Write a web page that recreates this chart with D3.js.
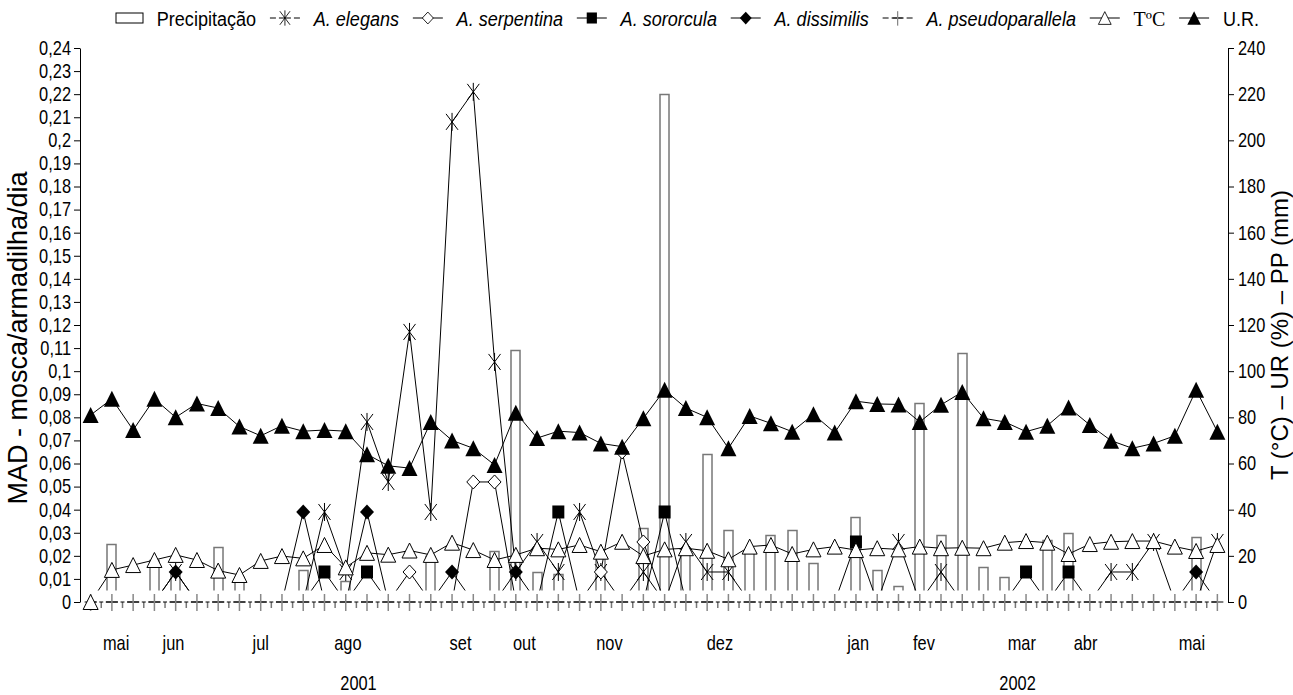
<!DOCTYPE html>
<html><head><meta charset="utf-8">
<script src="https://cdn.jsdelivr.net/npm/d3@7"></script>
<style>
html,body{margin:0;padding:0;background:#fff;}
text{font-family:"Liberation Sans",Arial,sans-serif;fill:#000;}
</style></head>
<body><svg id="c" width="1293" height="695"></svg>
<script>
// ---- data ----
const categories = d3.range(1, 55).map(String); // 54 weekly samples
const precipitacao = [0,25,0,18,13,0,24,11,0,0,14,0,9,0,0,0,20,0,0,22,109,13,12,0,19,0,32,220,22,64,31,22,29,31,17,0,37,14,7,86,29,108,15,11,0,27,30,0,0,0,0,0,28,0];
const elegans = [0,0,0,0,0.013,0,0,0,0,0,0,0.039,0.013,0.078,0.052,0.117,0.039,0.208,0.221,0.104,0.013,0.026,0.013,0.039,0.013,0,0.013,0,0.026,0.013,0.013,0,0,0,0,0,0,0,0.026,0,0.013,0,0,0,0,0,0,0,0.013,0.013,0.026,0,0,0.026];
const serpentina = [0,0,0,0,0,0,0,0,0,0,0,0,0,0,0,0.013,0,0,0.052,0.052,0,0,0,0,0.013,0.065,0.026,0,0,0,0,0,0,0,0,0,0,0,0,0,0,0,0,0,0,0,0,0,0,0,0,0,0,0];
const sororcula = [0,0,0,0,0,0,0,0,0,0,0,0.013,0,0.013,0,0,0,0,0,0,0,0,0.039,0,0,0,0,0.039,0,0,0,0,0,0,0,0,0.026,0,0,0,0,0,0,0,0.013,0,0.013,0,0,0,0,0,0,0];
const dissimilis = [0,0,0,0,0.013,0,0,0,0,0,0.039,0,0,0.039,0,0,0,0.013,0,0,0.013,0,0,0,0,0,0,0,0,0,0,0,0,0,0,0,0,0,0,0,0,0,0,0,0,0,0,0,0,0,0,0,0.013,0];
const pseudoparallela = new Array(54).fill(0);
const temperatura = [0,13.9,16,18.2,20.4,18.2,13.6,11.7,17.8,19.9,18.9,24.7,15,21.3,20.5,22.3,20.4,25.7,22.5,18.2,20.4,23.3,22.8,24.7,21.8,26.1,19.9,22.8,23.3,22.2,18.5,24,24.7,20.8,22.8,24,22.5,23.3,22.8,24,23.3,23.5,23.3,25.7,26.4,25.7,20.8,25.1,26.1,26.4,26.4,24,22.1,24.7];
const umidade = [81,88,74.5,88,80,86,84,76,72,76.4,74,74.5,74,64,59,58,78,70,66.6,59.4,82,71,74,73.4,68.7,67.3,79.6,91.9,84,80,66.6,80.6,77.4,73.8,81.3,73.4,87,85.8,85.6,78,85.4,91,79.6,78,73.8,76.4,84.3,76.7,69.9,66.6,68.7,72,91.9,73.8];
const leftTicks = d3.range(0, 25).map(d => d / 100);
const rightTicks = d3.range(0, 241, 20);
const monthLabels = ["mai","jun","jul","ago","set","out","nov","dez","jan","fev","mar","abr","mai"];
const monthPos = [1.2,3.9,8.0,12.1,17.4,20.4,24.4,29.6,36.1,39.2,43.8,46.8,51.8]; // in sample units
const yearLabels = ["2001","2002"];
const yearPos = [12.6,43.6];
const legendNames = ["Precipitação","A. elegans","A. serpentina","A. sororcula","A. dissimilis","A. pseudoparallela","TºC","U.R."];

// ---- layout ----
const svg = d3.select("#c");
const L = 80, R = 1228, T0 = 48, B0 = 602;
const NARROW = 0.82;
const x = d3.scaleBand().domain(categories).range([L, R]).paddingInner(0).paddingOuter(0);
const bw = x.bandwidth();
const cx = (i) => x(categories[i]) + bw / 2;
const xf = d3.scaleLinear().domain([0, categories.length - 1]).range([cx(0), cx(categories.length - 1)]);
const yL = d3.scaleLinear().domain([0, 0.24]).range([B0, T0]);
const yR = d3.scaleLinear().domain([0, 240]).range([B0, T0]);
const clipY = yL(0.005);

function narrow(sel, k) {
  const s = k || NARROW;
  sel.each(function () {
    const t = d3.select(this);
    const tx = +t.attr("x") || 0, ty = +t.attr("y") || 0;
    t.attr("x", 0).attr("y", 0).attr("transform", `translate(${tx},${ty}) scale(${s},1)`);
  });
}

svg.append("defs").append("clipPath").attr("id","clipA")
  .append("rect").attr("x", L).attr("y", 30).attr("width", R - L).attr("height", clipY - 30);

// axes
const fmt = d => d === 0 ? "0" : String(+d.toFixed(2)).replace(".", ",");
const gL = svg.append("g").attr("transform", `translate(${L},0)`)
  .call(d3.axisLeft(yL).tickValues(leftTicks).tickFormat(fmt).tickSize(6).tickSizeOuter(0).tickPadding(3));
const gR = svg.append("g").attr("transform", `translate(${R},0)`)
  .call(d3.axisRight(yR).tickValues(rightTicks).tickFormat(d3.format("d")).tickSize(6).tickSizeOuter(0).tickPadding(4));
[gL, gR].forEach(g => {
  g.selectAll("text").style("font-size", "20px").style("font-family", "'Liberation Sans',Arial,sans-serif").attr("fill", "#000");
  g.selectAll("line,path").attr("stroke", "#000");
  narrow(g.selectAll("text"));
});

// bars
const gBars = svg.append("g").attr("clip-path", "url(#clipA)");
gBars.selectAll("rect").data(precipitacao.map((v, i) => ({v, i})).filter(d => d.v > 0))
  .join("rect")
  .attr("x", d => Math.round(cx(d.i) - bw * 0.21))
  .attr("width", Math.round(bw * 0.42))
  .attr("y", d => Math.round(yR(d.v)) + 0.5)
  .attr("height", d => B0 - Math.round(yR(d.v)))
  .attr("fill", "#fff").attr("stroke", "#777").attr("stroke-width", 1.5);

// x boundary ticks
svg.append("g").selectAll("line").data(d3.range(1, categories.length)).join("line")
  .attr("x1", i => L + i * bw).attr("x2", i => L + i * bw)
  .attr("y1", B0).attr("y2", B0 + 6).attr("stroke", "#777").attr("stroke-width", 1.5);

// marker shapes
const markers = {
  x: (g) => g.append("path").attr("d", "M-6,-8L6,8M-6,8L6,-8M0,-9L0,9").attr("stroke", "#000").attr("fill", "none").attr("stroke-width", 1),
  diamondOpen: (g) => g.append("path").attr("d", "M0,-7L6.5,0L0,7L-6.5,0Z").attr("stroke", "#000").attr("fill", "#fff").attr("stroke-width", 1),
  square: (g) => g.append("path").attr("d", "M-6,-6.5H6V6.5H-6Z").attr("fill", "#000"),
  diamond: (g) => g.append("path").attr("d", "M0,-7.5L7,0L0,7.5L-7,0Z").attr("fill", "#000"),
  plus: (g) => { g.append("path").attr("d", "M-6,0H6").attr("stroke", "#000");
                 g.append("path").attr("d", "M0,-8V9").attr("stroke", "#888").attr("stroke-width", 1.5); },
  triOpen: (g) => g.append("path").attr("d", "M0,-7.5L7.5,7.5L-7.5,7.5Z").attr("stroke", "#000").attr("fill", "#fff").attr("stroke-width", 1),
  tri: (g) => g.append("path").attr("d", "M0,-8L8,8L-8,8Z").attr("fill", "#000")
};

const line = (ys) => d3.line().x((d, i) => cx(i)).y(d => ys(d));
const series = [
  {vals: elegans, y: yL, m: "x", zero: false},
  {vals: serpentina, y: yL, m: "diamondOpen", zero: false},
  {vals: sororcula, y: yL, m: "square", zero: false},
  {vals: dissimilis, y: yL, m: "diamond", zero: false},
  {vals: pseudoparallela, y: yL, m: "plus", zero: true, dashed: true},
  {vals: temperatura, y: yR, m: "triOpen", zero: true},
  {vals: umidade, y: yR, m: "tri", zero: true}
];
series.forEach(s => {
  const p = svg.append("path").datum(s.vals).attr("d", line(s.y))
    .attr("fill", "none").attr("stroke", "#000").attr("stroke-width", 1);
  if (s.dashed) {
    const gap = (bw / 2 - 8).toFixed(2);
    p.attr("stroke-dasharray", `6,${gap},4,${gap},6,0`);
  } else {
    p.attr("clip-path", "url(#clipA)");
  }
  s.vals.forEach((v, i) => {
    if (!s.zero && v === 0) return;
    const g = svg.append("g").attr("transform", `translate(${cx(i)},${s.y(v)})`);
    markers[s.m](g);
  });
});

// month and year labels
svg.append("g").selectAll("text").data(monthLabels).join("text")
  .attr("x", (d, i) => xf(monthPos[i])).attr("y", 650).attr("text-anchor", "middle")
  .style("font-size", "20px").text(d => d).call(narrow);
svg.append("g").selectAll("text").data(yearLabels).join("text")
  .attr("x", (d, i) => xf(yearPos[i])).attr("y", 690).attr("text-anchor", "middle")
  .style("font-size", "20px").text(d => d).call(narrow);

// axis titles
svg.append("text").attr("transform", "translate(27,338) rotate(-90)").attr("text-anchor", "middle")
  .style("font-size", "27px").text("MAD - mosca/armadilha/dia");
svg.append("text").attr("transform", "translate(1288,335) rotate(-90)").attr("text-anchor", "middle")
  .style("font-size", "24px").text("T (°C) – UR (%) – PP (mm)");

// legend (flow layout from 116 to 1259)
const leg = svg.append("g");
const ly = 18, LX0 = 116, LX1 = 1259, LK = 0.86, LFS = 21;
const syms = ["bar","x","diamondOpen","square","diamond","plus","triOpen","tri"];
const texts = legendNames.map((name, i) => {
  const t = leg.append("text").attr("y", ly + 8).text(name);
  if (i === 6) t.style("font-family", "'Liberation Serif','Times New Roman',serif").style("font-size", "20px");
  else t.style("font-size", LFS + "px");
  if (i >= 1 && i <= 5) t.style("font-style", "italic");
  const w = t.node().getComputedTextLength() * (i === 6 ? 1 : LK);
  return {t, w, i};
});
const symW = syms.map(s => s === "bar" ? 27 : 30);
const used = d3.sum(texts, d => d.w) + d3.sum(symW);
const nGaps = syms.length * 2 - 1;
const gap = (LX1 - LX0 - used) / nGaps;
let cur = LX0;
syms.forEach((s, i) => {
  if (s === "bar") {
    leg.append("rect").attr("x", cur).attr("y", ly - 5).attr("width", 27).attr("height", 10)
      .attr("fill", "#fff").attr("stroke", "#000");
  } else {
    const l = leg.append("line").attr("x1", cur).attr("x2", cur + 30).attr("y1", ly).attr("y2", ly).attr("stroke", "#000");
    if (s === "plus" || s === "x") l.attr("stroke-dasharray", "6,3,12,3,6");
    const g = leg.append("g").attr("transform", `translate(${cur + 15},${ly}) scale(0.85)`);
    markers[s](g);
  }
  cur += symW[i] + gap;
  const tt = texts[i];
  tt.t.attr("x", cur);
  if (i !== 6) narrow(tt.t, LK);
  cur += tt.w + gap;
});
</script></body></html>
